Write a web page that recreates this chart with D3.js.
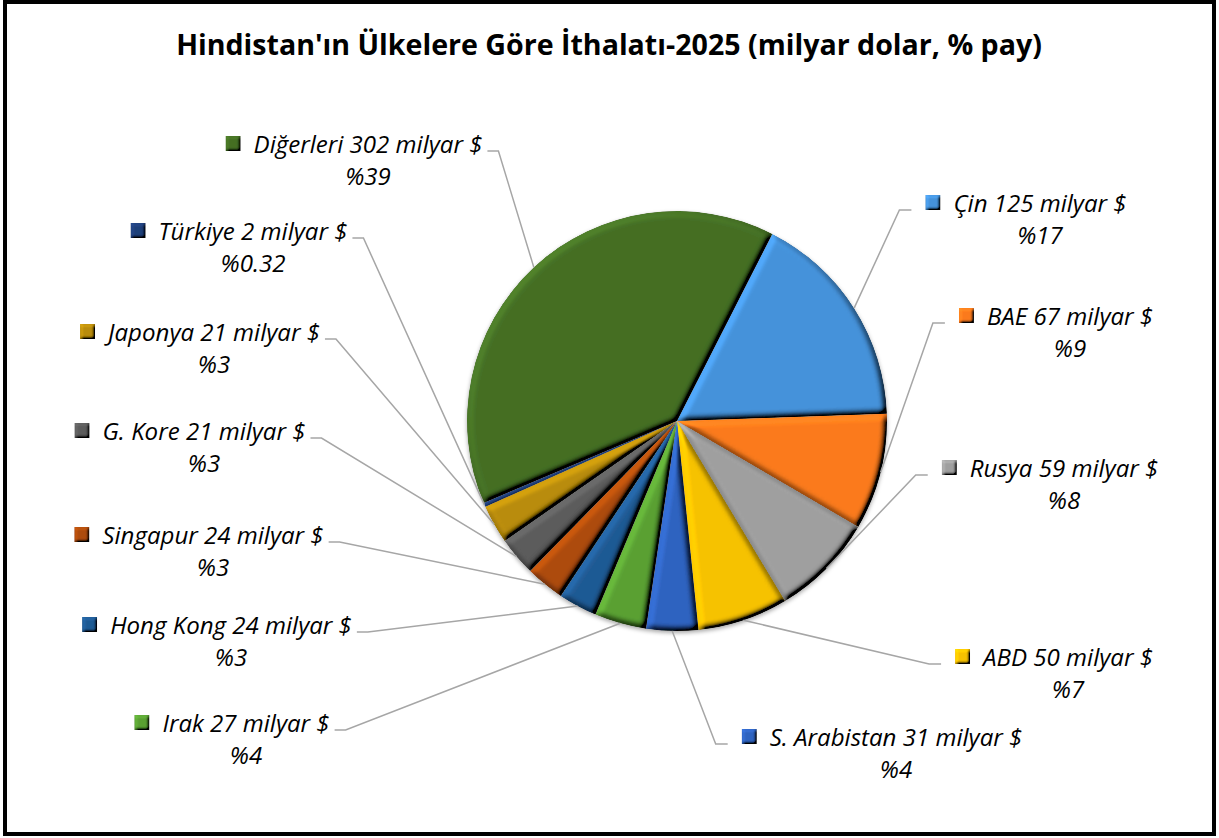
<!DOCTYPE html>
<html>
<head>
<meta charset="utf-8">
<script src="https://cdn.jsdelivr.net/npm/d3@7"></script>
<style>
  body { margin: 0; background: #fff; }
  svg { display: block; }
</style>
</head>
<body>
<div id="root"></div>
<script>
const width = 1219;
const height = 838;

// data
const countries = ["Çin", "BAE", "Rusya", "ABD", "S. Arabistan", "Irak", "Hong Kong", "Singapur", "G. Kore", "Japonya", "Türkiye", "Diğerleri"];
const valuesBn = [125, 67, 59, 50, 31, 27, 24, 24, 21, 21, 2, 302];
const sharesPct = [17, 9, 8, 7, 4, 4, 3, 3, 3, 3, 0.32, 39];
const colors = ["#4592da", "#fb7b1c", "#9f9f9f", "#f7c200", "#2f63c0", "#5aa133", "#1f5a94", "#ad4b0d", "#5b5b5b", "#b98c08", "#1f3f7a", "#446f24"];

// hand placed labels: centre of first line, baseline, side of the leader
const labelPos = [
  { cx: 1040, y: 212, side: "right" },
  { cx: 1070, y: 325, side: "right" },
  { cx: 1064, y: 477, side: "right" },
  { cx: 1068, y: 666, side: "right" },
  { cx: 896, y: 746, side: "right" },
  { cx: 246, y: 732, side: "left" },
  { cx: 231, y: 634, side: "left" },
  { cx: 213, y: 544, side: "left" },
  { cx: 204, y: 440, side: "left" },
  { cx: 214, y: 341, side: "left" },
  { cx: 253, y: 240, side: "left" },
  { cx: 368, y: 153, side: "left" }
];

const data = countries.map((c, i) => ({ name: c, value: valuesBn[i], share: sharesPct[i], color: colors[i], pos: labelPos[i] }));

const cx = 677, cy = 421, r = 210;
const rot = 27 * Math.PI / 180;
const fontFamily = "'Open Sans', Lato, sans-serif";

const svg = d3.select("#root").append("svg")
  .attr("width", width)
  .attr("height", height);

const defs = svg.append("defs");

function bevel(id, blur, scale) {
  const f = defs.append("filter").attr("id", id)
    .attr("x", "-10%").attr("y", "-10%").attr("width", "120%").attr("height", "120%");
  f.append("feGaussianBlur").attr("in", "SourceAlpha").attr("stdDeviation", blur).attr("result", "b");
  f.append("feDiffuseLighting").attr("in", "b").attr("surfaceScale", scale)
    .attr("diffuseConstant", 1).attr("lighting-color", "#fff").attr("result", "light")
    .append("feDistantLight").attr("azimuth", 225).attr("elevation", 45);
  f.append("feComposite").attr("in", "SourceGraphic").attr("in2", "light")
    .attr("operator", "arithmetic").attr("k1", 1.41).attr("k2", 0).attr("k3", 0).attr("k4", 0).attr("result", "lit");
  f.append("feComposite").attr("in", "lit").attr("in2", "SourceAlpha").attr("operator", "in");
}
bevel("bevel", 3, 6);
bevel("bevelSmall", 1.5, 3);

const shadow = defs.append("filter").attr("id", "shadow")
  .attr("x", "-10%").attr("y", "-10%").attr("width", "120%").attr("height", "120%");
shadow.append("feDropShadow").attr("dx", 0).attr("dy", 2).attr("stdDeviation", 2)
  .attr("flood-color", "#000").attr("flood-opacity", 0.35);

// font size that makes a string as wide as in the reference
function fitSize(str, weight, style, target) {
  const t = svg.append("text")
    .attr("font-family", fontFamily)
    .attr("font-weight", weight)
    .attr("font-style", style)
    .attr("font-size", "20px")
    .text(str);
  const w = t.node().getComputedTextLength();
  t.remove();
  return 20 * target / w;
}

svg.append("rect")
  .attr("x", 5).attr("y", 2)
  .attr("width", width - 10).attr("height", height - 6)
  .attr("fill", "#fff")
  .attr("stroke", "#000")
  .attr("stroke-width", 4);

const titleText = "Hindistan'ın Ülkelere Göre İthalatı-2025 (milyar dolar, % pay)";
const titleSize = fitSize(titleText, "bold", "normal", 866);

svg.append("text")
  .attr("x", 609)
  .attr("y", 55)
  .attr("text-anchor", "middle")
  .attr("font-family", fontFamily)
  .attr("font-weight", "bold")
  .attr("font-size", titleSize + "px")
  .attr("fill", "#000")
  .text(titleText);

const labelSize = fitSize("Diğerleri 302 milyar $", "normal", "italic", 229);

const pie = d3.pie()
  .sort(null)
  .value(d => d.share)
  .startAngle(rot)
  .endAngle(rot + 2 * Math.PI);

const arcs = pie(data);

const arc = d3.arc().innerRadius(0).outerRadius(r);

const pieG = svg.append("g")
  .attr("transform", `translate(${cx},${cy})`)
  .attr("filter", "url(#shadow)");

pieG.selectAll("path")
  .data(arcs)
  .enter()
  .append("path")
  .attr("d", arc)
  .attr("fill", d => d.data.color)
  .attr("filter", "url(#bevel)");

// labels
const labels = svg.append("g");

arcs.forEach(d => {
  const p = d.data.pos;
  const g = labels.append("g");
  const t1 = g.append("text")
    .attr("x", p.cx)
    .attr("y", p.y)
    .attr("text-anchor", "middle")
    .attr("font-family", fontFamily)
    .attr("font-style", "italic")
    .attr("font-size", labelSize + "px")
    .attr("fill", "#000")
    .text(`${d.data.name} ${d.data.value} milyar $`);
  g.append("text")
    .attr("x", p.cx)
    .attr("y", p.y + 32)
    .attr("text-anchor", "middle")
    .attr("font-family", fontFamily)
    .attr("font-style", "italic")
    .attr("font-size", labelSize + "px")
    .attr("fill", "#000")
    .text(`%${d.data.share}`);

  const w = t1.node().getComputedTextLength();
  const x0 = p.cx - w / 2;
  const x1 = p.cx + w / 2;
  const mx = x0 - 28;

  g.append("rect")
    .attr("x", mx)
    .attr("y", p.y - 17)
    .attr("width", 15)
    .attr("height", 15)
    .attr("fill", d.data.color)
    .attr("filter", "url(#bevelSmall)");

  const a = (d.startAngle + d.endAngle) / 2;
  const ex = cx + r * Math.sin(a);
  const ey = cy - r * Math.cos(a);
  let pts;
  if (p.side === "left") {
    pts = [[x1 + 5, p.y - 2], [x1 + 16, p.y - 2], [ex, ey]];
  } else {
    pts = [[mx - 14, p.y - 2], [mx - 26, p.y - 2], [ex, ey]];
  }
  labels.insert("path", ":first-child")
    .attr("d", d3.line()(pts))
    .attr("fill", "none")
    .attr("stroke", "#a6a6a6")
    .attr("stroke-width", 1.5);
});
</script>
</body>
</html>
